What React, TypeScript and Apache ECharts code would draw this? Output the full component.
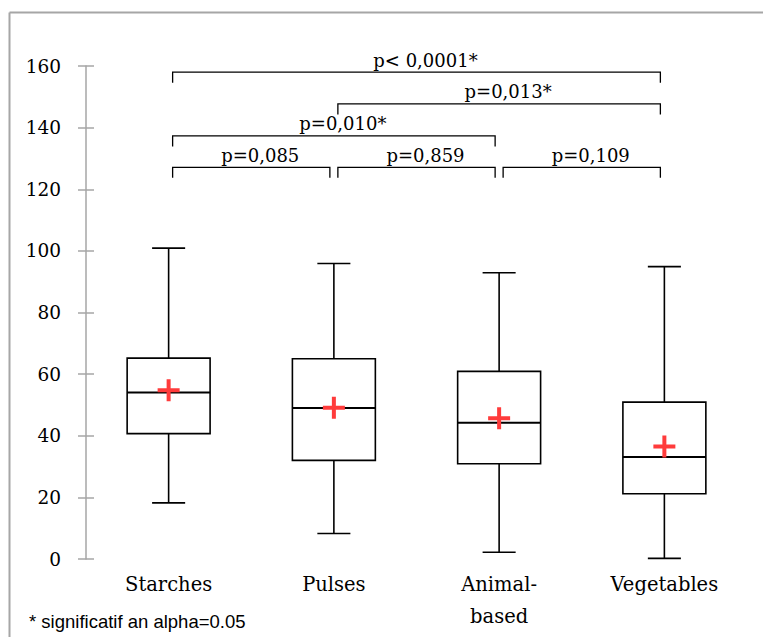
import React, { useEffect, useRef } from "react";
import * as echarts from "echarts";

const categories = ["Starches", "Pulses", "Animal-\nbased", "Vegetables"];
const whiskerLow = [18.2, 8.3, 2.2, 0.2];
const q1 = [40.7, 32.0, 30.9, 21.2];
const median = [54.0, 49.0, 44.2, 33.1];
const q3 = [65.2, 65.0, 60.9, 50.9];
const whiskerHigh = [100.9, 95.9, 92.9, 94.9];
const means = [54.8, 49.1, 45.7, 36.5];

const yMin = 0;
const yMax = 160;
const yInterval = 20;

const bracketFrom = [0, 1, 0, 0, 1, 2];
const bracketTo = [3, 3, 2, 1, 2, 3];
const bracketLevel = [158, 147.7, 137.3, 127.1, 127.1, 127.1];
const bracketLabels = ["p< 0,0001*", "p=0,013*", "p=0,010*", "p=0,085", "p=0,859", "p=0,109"];

const footnote = "* significatif an alpha=0.05";

const SERIF = '"DejaVu Serif", serif';
const AXIS_GRAY = "#a6a6a6";

export default function App() {
  const ref = useRef<HTMLDivElement>(null);

  useEffect(() => {
    if (!ref.current) return;
    const chart = echarts.init(ref.current, null, { renderer: "svg" });

    const boxData = categories.map((_, i) => [i, whiskerLow[i], q1[i], median[i], q3[i], whiskerHigh[i]]);
    const meanData = categories.map((_, i) => [i, means[i]]);
    const bracketData = bracketFrom.map((f, i) => [f, bracketTo[i], bracketLevel[i]]);

    const option: any = {
      animation: false,
      grid: { left: 86, top: 66, width: 661, height: 493 },
      xAxis: {
        type: "category",
        data: categories,
        axisLine: { show: false },
        axisTick: { show: false },
        axisLabel: {
          margin: 9,
          fontFamily: SERIF,
          fontSize: 19.5,
          lineHeight: 32,
          color: "#000",
        },
      },
      yAxis: [
        {
          type: "value",
          min: yMin,
          max: yMax,
          interval: yInterval,
          splitLine: { show: false },
          axisLine: { show: true, lineStyle: { color: AXIS_GRAY, width: 1.5 } },
          axisTick: { show: true, length: 8, lineStyle: { color: AXIS_GRAY, width: 1.5 } },
          axisLabel: { margin: 25, fontFamily: SERIF, fontSize: 18.5, color: "#000" },
        },
        {
          type: "value",
          position: "left",
          min: yMin,
          max: yMax,
          interval: yInterval,
          splitLine: { show: false },
          axisLine: { show: false },
          axisTick: { show: true, inside: true, length: 8, lineStyle: { color: AXIS_GRAY, width: 1.5 } },
          axisLabel: { show: false },
        },
      ],
      series: [
        {
          type: "custom",
          name: "box",
          data: boxData,
          encode: { x: 0, y: [1, 2, 3, 4, 5] },
          z: 2,
          renderItem: (params: any, api: any) => {
            const i = api.value(0);
            const lo = api.coord([i, api.value(1)]);
            const a = api.coord([i, api.value(2)]);
            const m = api.coord([i, api.value(3)]);
            const b = api.coord([i, api.value(4)]);
            const hi = api.coord([i, api.value(5)]);
            const band = api.size([1, 0])[0];
            const hw = band * 0.251;
            const cw = band * 0.1;
            const x = lo[0];
            const st = { stroke: "#000", lineWidth: 1.6, fill: "none" };
            return {
              type: "group",
              children: [
                { type: "line", shape: { x1: x, y1: hi[1], x2: x, y2: b[1] }, style: st },
                { type: "line", shape: { x1: x, y1: a[1], x2: x, y2: lo[1] }, style: st },
                { type: "line", shape: { x1: x - cw, y1: hi[1], x2: x + cw, y2: hi[1] }, style: st },
                { type: "line", shape: { x1: x - cw, y1: lo[1], x2: x + cw, y2: lo[1] }, style: st },
                {
                  type: "rect",
                  shape: { x: x - hw, y: b[1], width: 2 * hw, height: a[1] - b[1] },
                  style: { stroke: "#000", lineWidth: 1.6, fill: "rgba(0,0,0,0)" },
                },
                { type: "line", shape: { x1: x - hw, y1: m[1], x2: x + hw, y2: m[1] }, style: { stroke: "#000", lineWidth: 2 } },
              ],
            };
          },
        },
        {
          type: "scatter",
          name: "mean",
          data: meanData,
          z: 5,
          symbol: "path://M9,0H13V9H22V13H13V22H9V13H0V9H9Z",
          symbolSize: [22, 22],
          itemStyle: { color: "#ff3b3b", opacity: 1 },
        },
        {
          type: "custom",
          name: "brackets",
          data: bracketData,
          encode: { x: [0, 1], y: 2 },
          clip: false,
          z: 3,
          renderItem: (params: any, api: any) => {
            const p1 = api.coord([api.value(0), api.value(2)]);
            const p2 = api.coord([api.value(1), api.value(2)]);
            const x1 = p1[0] + 4;
            const x2 = p2[0] - 4;
            const y = p1[1];
            const drop = 10.5;
            return {
              type: "group",
              children: [
                {
                  type: "polyline",
                  shape: { points: [[x1, y + drop], [x1, y], [x2, y], [x2, y + drop]] },
                  style: { stroke: "#000", lineWidth: 1.3, fill: "none" },
                },
                {
                  type: "text",
                  x: (x1 + x2) / 2 + 9,
                  y: y - 12,
                  style: {
                    text: bracketLabels[params.dataIndex],
                    font: `18px ${SERIF}`,
                    fill: "#000",
                    align: "center",
                    verticalAlign: "middle",
                  },
                },
              ],
            };
          },
        },
      ],
      graphic: [
        { type: "line", shape: { x1: 9.5, y1: 12.5, x2: 763, y2: 12.5 }, style: { stroke: AXIS_GRAY, lineWidth: 2 } },
        { type: "line", shape: { x1: 9.5, y1: 12.5, x2: 9.5, y2: 637 }, style: { stroke: AXIS_GRAY, lineWidth: 2 } },
        {
          type: "text",
          x: 29,
          y: 621,
          style: {
            text: footnote,
            font: '18.5px "Liberation Sans", Arial, sans-serif',
            fill: "#000",
            align: "left",
            verticalAlign: "middle",
          },
        },
      ],
    };

    chart.setOption(option);
    return () => chart.dispose();
  }, []);

  return (
    <div
      ref={ref}
      style={{ position: "absolute", left: 0, top: 0, width: 763, height: 637, background: "#fff" }}
    />
  );
}
